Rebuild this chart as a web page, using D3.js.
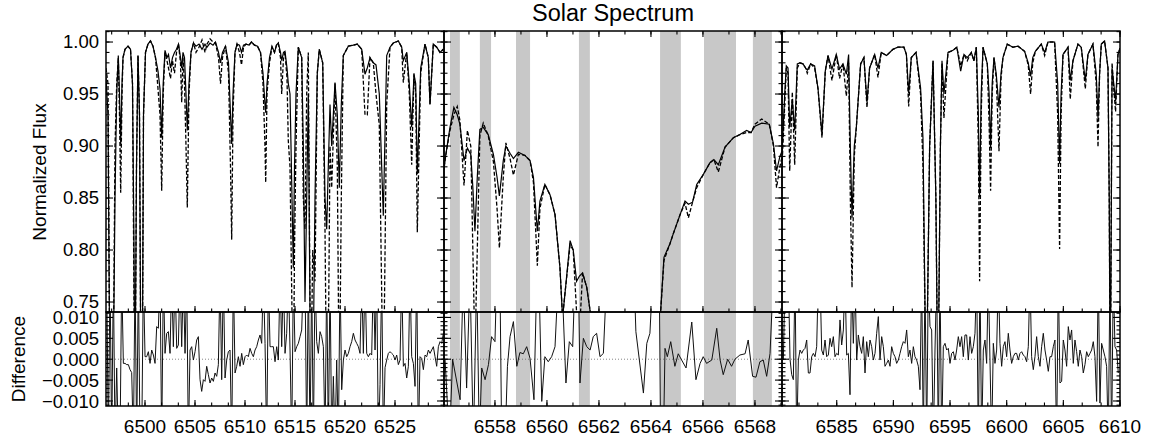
<!DOCTYPE html>
<html><head><meta charset="utf-8">
<script src="https://cdnjs.cloudflare.com/ajax/libs/d3/7.8.5/d3.min.js"></script>
<style>
  body { margin: 0; background: #fff; }
  svg text { font-family: "Liberation Sans", Arial, Helvetica, sans-serif; fill: #000; }
</style>
</head>
<body>
<svg id="chart" width="1154" height="439"></svg>
<script>
// ---- data ----
const leftWave = [6496.10,6496.30,6496.50,6496.80,6497.00,6497.17,6497.33,6497.45,6497.57,6497.70,
  6497.80,6498.00,6498.30,6498.55,6498.75,6498.90,6499.00,6499.15,6499.30,6499.45,
  6499.60,6499.72,6499.85,6500.05,6500.30,6500.55,6500.80,6501.05,6501.30,6501.50,
  6501.67,6501.82,6502.00,6502.20,6502.35,6502.55,6502.75,6502.95,6503.15,6503.35,
  6503.55,6503.67,6503.80,6503.95,6504.10,6504.23,6504.40,6504.60,6504.85,6505.10,
  6505.40,6505.70,6506.00,6506.20,6506.50,6506.80,6507.05,6507.35,6507.55,6507.75,
  6508.05,6508.35,6508.55,6508.67,6508.80,6509.00,6509.20,6509.45,6509.65,6509.85,
  6510.10,6510.40,6510.65,6510.95,6511.25,6511.55,6511.80,6512.00,6512.07,6512.20,
  6512.45,6512.70,6512.95,6513.15,6513.33,6513.55,6513.67,6513.85,6514.00,6514.20,
  6514.33,6514.50,6514.70,6514.83,6514.95,6515.10,6515.33,6515.67,6515.83,6516.00,
  6516.17,6516.33,6516.57,6516.77,6517.00,6517.23,6517.43,6517.77,6518.00,6518.17,
  6518.33,6518.50,6518.67,6519.00,6519.23,6519.43,6519.63,6519.83,6520.33,6520.83,
  6521.23,6521.67,6522.00,6522.23,6522.50,6522.83,6523.10,6523.43,6523.83,6524.17,
  6524.50,6524.83,6525.33,6525.67,6525.83,6526.17,6526.43,6526.67,6526.90,6527.07,
  6527.23,6527.57,6528.00,6528.33,6528.50,6528.83,6529.17,6529.50,6529.83];
const leftObs = [0.966,0.930,0.650,0.650,0.850,0.950,0.987,0.950,0.902,0.960,
  0.985,0.993,0.996,0.993,0.960,0.800,0.650,0.880,0.987,0.930,
  0.650,0.650,0.930,0.990,0.998,1.001,0.996,0.985,0.972,0.955,
  0.908,0.960,0.992,0.985,0.988,0.975,0.985,0.990,0.993,0.998,
  0.985,0.975,0.990,0.985,0.950,0.915,0.960,0.990,0.999,0.996,
  0.998,0.993,0.998,0.995,0.999,0.997,1.000,0.990,0.980,0.990,
  0.996,0.980,0.930,0.902,0.950,0.990,0.998,0.997,0.990,0.997,
  0.998,0.997,1.000,0.997,0.996,0.990,0.970,0.940,0.932,0.960,
  0.985,0.996,0.990,0.997,0.999,0.990,0.982,0.990,0.991,0.975,
  0.960,0.950,0.850,0.783,0.880,0.950,0.995,0.985,0.900,0.750,
  0.850,0.950,0.650,0.650,0.850,0.970,0.993,0.980,0.850,0.820,
  0.880,0.940,0.900,0.961,0.930,0.860,0.940,0.987,0.996,0.997,
  0.998,0.993,0.969,0.975,0.985,0.980,0.978,0.950,0.833,0.987,
  0.995,0.999,1.001,0.995,0.982,0.990,0.960,0.918,0.969,0.960,
  0.873,0.975,0.998,0.985,0.940,0.998,0.995,0.990,0.993];
const leftModel = [0.975,0.960,0.650,0.650,0.900,0.960,0.985,0.930,0.855,0.950,
  0.985,0.993,0.996,0.993,0.960,0.750,0.650,0.880,0.987,0.930,
  0.650,0.650,0.930,0.990,0.998,1.001,0.996,0.985,0.955,0.930,
  0.857,0.950,0.990,0.982,0.975,0.965,0.982,0.970,0.990,0.998,
  0.980,0.942,0.985,0.960,0.900,0.841,0.950,0.990,0.999,0.990,
  0.995,1.002,0.990,0.998,1.003,1.000,0.999,0.985,0.960,0.985,
  0.996,0.970,0.880,0.810,0.930,0.990,0.998,0.990,0.978,0.995,
  0.998,0.997,1.000,0.997,0.996,0.990,0.960,0.900,0.865,0.950,
  0.980,0.995,0.990,0.997,0.999,0.985,0.950,0.985,0.990,0.965,
  0.905,0.880,0.740,0.650,0.800,0.900,0.995,0.985,0.850,0.820,
  0.950,0.990,0.650,0.800,0.770,0.970,0.993,0.980,0.820,0.650,
  0.700,0.900,0.860,0.960,0.880,0.650,0.850,0.987,0.996,0.997,
  0.998,0.993,0.930,0.930,0.985,0.980,0.950,0.920,0.650,0.940,
  0.995,0.999,1.001,0.995,0.961,0.990,0.950,0.882,0.970,0.950,
  0.817,0.970,0.998,0.985,0.940,0.998,0.995,0.990,0.993];

const midWave = [6556.04,6556.10,6556.27,6556.42,6556.55,6556.65,6556.81,6556.94,6557.07,6557.15,
  6557.23,6557.32,6557.42,6557.55,6557.74,6557.94,6558.08,6558.17,6558.32,6558.42,
  6558.58,6558.71,6558.90,6559.15,6559.35,6559.48,6559.63,6559.73,6559.92,6560.12,
  6560.31,6560.50,6560.60,6560.70,6560.89,6561.01,6561.14,6561.25,6561.37,6561.53,
  6561.68,6561.80,6563.00,6564.30,6564.37,6564.50,6564.73,6564.85,6565.12,6565.31,
  6565.44,6565.60,6565.76,6566.02,6566.27,6566.42,6566.59,6566.85,6567.17,6567.42,
  6567.68,6567.85,6568.00,6568.26,6568.55,6568.71,6568.83,6568.96,6569.04];
const midObs = [0.877,0.890,0.918,0.937,0.930,0.921,0.886,0.898,0.892,0.860,
  0.818,0.870,0.916,0.918,0.911,0.892,0.870,0.852,0.886,0.900,
  0.893,0.888,0.894,0.891,0.886,0.870,0.818,0.847,0.863,0.853,
  0.834,0.783,0.735,0.760,0.809,0.800,0.770,0.775,0.778,0.764,
  0.738,0.700,0.650,0.700,0.740,0.793,0.806,0.815,0.834,0.847,
  0.844,0.846,0.863,0.873,0.884,0.887,0.882,0.899,0.908,0.911,
  0.915,0.913,0.919,0.922,0.921,0.902,0.876,0.890,0.895];
const midModel = [0.880,0.890,0.915,0.930,0.938,0.925,0.862,0.915,0.900,0.800,
  0.700,0.800,0.910,0.922,0.910,0.885,0.840,0.802,0.870,0.903,
  0.888,0.872,0.892,0.891,0.886,0.865,0.785,0.840,0.863,0.853,
  0.834,0.783,0.735,0.760,0.805,0.800,0.740,0.720,0.778,0.764,
  0.738,0.700,0.650,0.700,0.740,0.790,0.806,0.815,0.834,0.845,
  0.831,0.846,0.860,0.873,0.884,0.887,0.875,0.899,0.908,0.911,
  0.913,0.913,0.921,0.926,0.921,0.900,0.860,0.880,0.890];

const rightWave = [6580.17,6580.41,6580.55,6580.70,6580.85,6581.08,6581.29,6581.52,6581.75,6582.02,
  6582.25,6582.40,6582.70,6583.05,6583.35,6583.70,6583.99,6584.23,6584.58,6584.96,
  6585.25,6585.55,6585.85,6586.05,6586.20,6586.35,6586.55,6586.73,6587.11,6587.40,
  6587.67,6587.90,6588.35,6588.64,6588.93,6589.40,6589.96,6590.40,6590.93,6591.15,
  6591.35,6591.58,6592.00,6592.40,6592.61,6592.90,6593.20,6593.50,6593.75,6593.93,
  6594.15,6594.29,6594.46,6594.82,6595.26,6595.60,6595.94,6596.23,6596.52,6596.88,
  6597.11,6597.32,6597.50,6597.61,6597.75,6597.91,6598.29,6598.45,6598.58,6598.72,
  6598.88,6599.08,6599.32,6599.50,6599.67,6600.05,6600.55,6601.00,6601.58,6601.90,
  6602.11,6602.30,6602.53,6603.05,6603.35,6603.64,6604.23,6604.50,6604.67,6604.80,
  6604.97,6605.41,6605.61,6605.85,6606.29,6606.58,6606.94,6607.17,6607.61,6607.90,
  6608.06,6608.20,6608.35,6608.64,6608.94,6609.05,6609.14,6609.30,6609.45,6609.61,
  6609.82,6610.00];
const rightObs = [0.892,0.950,0.977,0.975,0.918,0.945,0.915,0.979,0.980,0.979,
  0.975,0.973,0.979,0.977,0.955,0.911,0.972,0.987,0.974,0.988,
  0.974,0.979,0.969,0.988,0.900,0.831,0.900,0.918,0.979,0.985,
  0.942,0.975,0.988,0.975,0.990,0.987,0.993,0.995,0.995,0.988,
  0.951,0.985,0.990,0.956,0.908,0.650,0.900,0.982,0.850,0.650,
  0.900,0.982,0.950,0.990,0.992,0.995,0.972,0.988,0.985,0.990,
  0.982,0.995,0.930,0.851,0.950,0.995,0.979,0.950,0.898,0.960,
  0.985,0.969,0.937,0.970,0.985,0.998,0.995,0.996,0.991,0.980,
  0.967,0.985,0.991,0.998,0.990,1.000,1.000,0.960,0.883,0.950,
  0.988,0.995,0.963,0.982,0.998,0.995,0.963,0.988,0.998,0.970,
  0.927,0.970,0.998,1.001,0.975,0.850,0.650,0.975,0.960,0.943,
  0.988,0.994];
const rightModel = [0.880,0.940,0.975,0.970,0.876,0.952,0.882,0.975,0.980,0.979,
  0.975,0.970,0.979,0.975,0.955,0.908,0.972,0.987,0.963,0.988,
  0.965,0.979,0.948,0.980,0.850,0.764,0.890,0.918,0.979,0.985,
  0.937,0.975,0.988,0.966,0.990,0.987,0.993,0.995,0.995,0.988,
  0.938,0.985,0.990,0.950,0.882,0.650,0.900,0.982,0.850,0.650,
  0.900,0.980,0.927,0.990,0.992,0.995,0.977,0.988,0.982,0.990,
  0.982,0.995,0.900,0.770,0.930,0.995,0.979,0.920,0.857,0.950,
  0.985,0.965,0.895,0.965,0.985,0.998,0.995,0.996,0.991,0.978,
  0.950,0.980,0.991,0.998,0.987,1.000,1.000,0.930,0.801,0.930,
  0.988,0.995,0.945,0.982,0.998,0.995,0.955,0.988,0.998,0.960,
  0.899,0.970,0.998,1.001,0.975,0.850,0.650,0.980,0.955,0.933,
  0.988,0.994];

// difference (obs - model) in units of 1e-3, sampled on the spectrum grid
const leftDiffStart = 6496.17, leftDiffStep = 1 / 6;
const leftDiff = [20,-20,20,-20,20,-20,-2.1,-20,-20,20,-1.0,-1.0,-1.3,-1.3,-2.5,-3.2,-20,20,-20,20,
  -20,-20,20,0.6,0.6,1.8,-1.0,2.2,1.0,-1.0,7.8,7.4,20,-20,20,1.4,6.2,6.6,1.4,20,
  3.0,20,2.6,3.4,20,3.0,20,1.4,20,-20,2.2,3.0,-0.2,1.8,4.6,5.4,-4.9,-7.7,-4.9,-5.3,
  -1.7,-3.7,-5.7,-4.5,-5.3,-3.3,-4.1,-1.3,20,-4.9,20,-4.5,-0.2,1.8,2.2,-20,20,-3.3,-1.7,0.6,
  -1.7,1.4,-1.3,0.6,1.0,0.6,2.6,1.4,0.6,2.2,3.0,4.6,5.8,3.8,20,3.8,-20,20,3.0,3.0,
  3.0,-0.6,3.0,-0.2,20,3.0,20,1.4,6.2,20,2.2,-20,20,1.8,3.0,3.8,5.4,7.0,20,20,
  -20,20,-20,20,-20,20,4.2,1.4,6.6,5.4,3.0,-20,20,-20,20,-20,-4.1,-20,-0.2,-20,
  20,-7.3,-0.2,2.2,0.6,1.4,3.0,4.2,6.2,4.6,3.8,3.0,1.4,20,1.4,20,1.4,0.6,1.4,1.0,
  20,2.2,20,-20,-6.1,20,-20,-2.0,-0.2,1.4,1.8,1.4,1.0,-0.2,1.0,-1.3,-0.2,20,-1.7,-1.0,
  -4.5,-1.7,20,0.6,-1.0,-6.5,20,-20,0.6,0.2,-2.5,1.0,0.6,2.2,1.4,2.2,3.0,0.6,-1.7,3.0,
  4.2,3.8,6.2];
const midDiffWave = [6556.08,6556.25,6556.37,6556.66,6556.78,6556.91,6557.04,6557.17,6557.30,6557.40,
  6557.49,6557.62,6557.75,6557.87,6558.00,6558.07,6558.19,6558.26,6558.39,6558.48,
  6558.58,6558.71,6558.84,6558.96,6559.09,6559.22,6559.35,6559.50,6559.61,6559.69,
  6559.80,6559.92,6560.05,6560.18,6560.31,6560.44,6560.57,6560.73,6560.86,6560.99,
  6561.08,6561.21,6561.27,6561.40,6561.53,6561.66,6561.78,6561.91,6562.04,6562.17,
  6562.30,6562.80,6563.35,6563.42,6563.71,6563.84,6563.96,6564.07,6564.32,6564.37,
  6564.48,6564.54,6564.63,6564.76,6564.92,6565.05,6565.18,6565.35,6565.57,6565.73,
  6565.89,6566.01,6566.14,6566.34,6566.53,6566.66,6566.78,6566.95,6567.10,6567.23,
  6567.42,6567.62,6567.74,6567.91,6568.04,6568.19,6568.32,6568.45,6568.58,6568.71];
const midDiff = [0,-20,0,-9.7,20,-6.9,20,-20,20,-20,
  -2.1,-4.9,-1.3,5.4,4.2,20,20,-20,-20,-1.7,
  5.4,9.0,-1.7,1.6,1.3,3.0,0.2,-9.7,20,20,
  -10.1,0.6,-0.6,0.6,3.0,20,20,-5.7,4.2,3.0,
  20,20,-5.7,5.0,3.0,2.2,5.4,6.2,0.6,1.4,
  20,null,20,6.6,-8.1,3.8,6.2,20,20,-20,
  -20,2.6,0.6,4.2,-1.7,1.3,-0.2,-2.1,8.9,-4.9,
  -1.0,0.6,-1.0,-0.2,7.4,-0.2,-3.7,0,-1.7,0,
  1.0,1.3,4.6,-4.1,-4.3,-0.6,-0.2,-4.1,1.4,20];
const rightDiffStart = 6580.29, rightDiffStep = 5 / 34;
const rightDiff = [-0.2,20,20,20,0,-3.7,-4.9,20,-20,-0.2,
  2.2,1.4,2.2,2.6,4.6,-3.3,-3.3,0.6,1.4,0.6,
  3.0,20,20,2.2,1.0,4.6,0.6,1.0,5.0,3.0,
  5.4,0.6,1.4,1.0,9.4,3.4,7.0,20,1.0,1.4,
  -8.5,20,3.8,20,-0.2,5.8,3.0,1.4,5.4,-3.3,
  4.2,0.6,4.6,3.0,-0.2,1.4,6.2,10.2,-0.2,5.4,
  3.0,-1.7,-1.0,-0.2,-1.7,3.0,1.4,0.6,-1.0,-0.2,
  1.4,3.0,4.2,3.8,7.0,0.6,2.2,-1.0,3.0,0.6,
  -0.2,-1.7,-7.3,20,-20,20,-20,20,7.8,7.0,
  -20,2.2,20,-20,20,-20,3.0,3.8,2.2,2.6,
  -1.0,1.4,1.8,-0.2,2.2,5.4,3.0,5.4,0.6,5.8,
  5.8,-0.2,5.4,1.4,3.0,6.2,20,-20,20,-20,
  2.2,4.6,-1.0,20,-0.2,-20,3.8,-1.0,2.2,20,
  3.8,-1.7,3.0,4.2,0.6,6.2,2.2,-1.0,0.6,1.4,
  1.4,-0.2,1.4,1.8,1.0,0.6,-0.6,3.0,20,0.6,
  -2.5,0.6,5.4,0.6,-1.7,3.0,6.2,2.2,-0.2,-2.9,
  0.6,0.6,3.0,4.6,-20,20,-5.7,-5.3,4.6,2.2,
  -1.7,7.8,4.6,7.0,-1.0,4.6,1.8,-1.7,2.2,0.6,
  -3.3,-1.3,1.8,0.6,1.4,2.2,4.2,0.6,-10.1,20,
  -10.5,3.8,2.2,0.6,-1.7,-20,20,-20,20,3.0,
  2.2,-3.3];

// masked regions around H-alpha
const bandStart = [6556.27, 6557.42, 6558.81, 6561.23, 6564.35, 6566.04, 6567.92];
const bandEnd   = [6556.65, 6557.85, 6559.35, 6561.65, 6565.15, 6567.27, 6568.65];

const fluxTicks = [0.75, 0.80, 0.85, 0.90, 0.95, 1.00];
const diffTicks = [-0.010, -0.005, 0, 0.005, 0.010];

// ---- layout ----
const svg = d3.select("#chart");
const panelX = [106, 444, 782], panelW = 338;
const topY0 = 31, topY1 = 312, botY1 = 406;

const yFlux = d3.scaleLinear().domain([0.7404, 1.0106]).range([topY1, topY0]);
const yDiff = d3.scaleLinear().domain([-0.0112, 0.0113]).range([botY1, topY1]);

const panels = [
  { domain: [6496.1, 6529.9], major: d3.range(6500, 6530, 5), minorStep: 5 / 3,
    wave: leftWave, obs: leftObs, model: leftModel,
    dWave: leftDiff.map((d, i) => leftDiffStart + i * leftDiffStep), diff: leftDiff },
  { domain: [6556.04, 6569.04], major: d3.range(6558, 6570, 2), minorStep: 1,
    wave: midWave, obs: midObs, model: midModel,
    dWave: midDiffWave, diff: midDiff, bands: true },
  { domain: [6580.17, 6610.0], major: d3.range(6585, 6611, 5), minorStep: 5 / 3,
    wave: rightWave, obs: rightObs, model: rightModel,
    dWave: rightDiff.map((d, i) => rightDiffStart + i * rightDiffStep), diff: rightDiff }
];

const defs = svg.append("defs");
const majLen = 7, minLen = 3.5;

panels.forEach((p, pi) => {
  const x0 = panelX[pi];
  const x = d3.scaleLinear().domain(p.domain).range([x0, x0 + panelW]);
  const g = svg.append("g");

  defs.append("clipPath").attr("id", "ct" + pi).append("rect")
    .attr("x", x0).attr("y", topY0).attr("width", panelW).attr("height", topY1 - topY0);
  defs.append("clipPath").attr("id", "cb" + pi).append("rect")
    .attr("x", x0).attr("y", topY1).attr("width", panelW).attr("height", botY1 - topY1);

  if (p.bands) {
    g.selectAll("rect.band").data(bandStart).enter().append("rect")
      .attr("class", "band")
      .attr("x", (d, i) => x(d)).attr("width", (d, i) => x(bandEnd[i]) - x(d))
      .attr("y", topY0).attr("height", botY1 - topY0)
      .attr("fill", "#c8c8c8");
  }

  // zero line of the difference panel
  g.append("line").attr("x1", x0).attr("x2", x0 + panelW)
    .attr("y1", yDiff(0)).attr("y2", yDiff(0))
    .attr("stroke", "#666").attr("stroke-width", 0.8).attr("stroke-dasharray", "1,2");

  const spec = p.wave.map((w, i) => ({ w, o: p.obs[i], m: p.model[i] }));
  const topG = g.append("g").attr("clip-path", `url(#ct${pi})`);
  topG.append("path").datum(spec)
    .attr("d", d3.line().x(d => x(d.w)).y(d => yFlux(d.m)))
    .attr("fill", "none").attr("stroke", "#000").attr("stroke-width", 1.3)
    .attr("stroke-dasharray", "4,2");
  topG.append("path").datum(spec)
    .attr("d", d3.line().x(d => x(d.w)).y(d => yFlux(d.o)))
    .attr("fill", "none").attr("stroke", "#000").attr("stroke-width", 1.2);

  const diffData = p.dWave.map((w, i) => ({ w, v: p.diff[i] }));
  g.append("g").attr("clip-path", `url(#cb${pi})`).append("path").datum(diffData)
    .attr("d", d3.line().defined(d => d.v != null).x(d => x(d.w)).y(d => yDiff(d.v * 1e-3)))
    .attr("fill", "none").attr("stroke", "#111").attr("stroke-width", 1);

  // frames
  [[topY0, topY1], [topY1, botY1]].forEach(([a, b]) => {
    g.append("rect").attr("x", x0).attr("y", a).attr("width", panelW).attr("height", b - a)
      .attr("fill", "none").attr("stroke", "#000").attr("stroke-width", 1.5);
  });

  // x ticks (inward)
  const minors = d3.range(p.major[0] - 6 * p.minorStep, p.domain[1] + 0.01, p.minorStep)
    .filter(v => v >= p.domain[0] - 1e-6 && v <= p.domain[1] + 1e-6);
  const xt = g.append("g").attr("stroke", "#000").attr("stroke-width", 1.1);
  const tickX = (vals, len) => {
    vals.forEach(v => {
      const px = x(v);
      xt.append("line").attr("x1", px).attr("x2", px).attr("y1", topY0).attr("y2", topY0 + len);
      xt.append("line").attr("x1", px).attr("x2", px).attr("y1", topY1).attr("y2", topY1 - len);
      xt.append("line").attr("x1", px).attr("x2", px).attr("y1", botY1).attr("y2", botY1 - len);
    });
  };
  tickX(minors, 3.5);
  tickX(p.major, 6);

  // y ticks on both sides (inward)
  const yt = g.append("g").attr("stroke", "#000").attr("stroke-width", 1.1);
  const tickY = (vals, scale, len) => {
    vals.forEach(v => {
      const py = scale(v);
      yt.append("line").attr("x1", x0).attr("x2", x0 + len).attr("y1", py).attr("y2", py);
      yt.append("line").attr("x1", x0 + panelW).attr("x2", x0 + panelW - len).attr("y1", py).attr("y2", py);
    });
  };
  tickY(d3.range(74, 102).map(v => v / 100), yFlux, minLen);
  tickY(fluxTicks, yFlux, majLen);
  tickY(d3.range(-11, 12).map(v => v / 1000), yDiff, minLen);
  tickY(diffTicks, yDiff, majLen);

  // x labels
  g.selectAll("text.xl").data(p.major).enter().append("text")
    .attr("class", "xl").attr("x", d => x(d)).attr("y", 433)
    .attr("text-anchor", "middle").attr("font-size", 19).text(d => d);
});

// y labels on the first panel
const fmtF = d3.format(".2f"), fmtD = d3.format(".3f");
svg.selectAll("text.yf").data(fluxTicks).enter().append("text")
  .attr("x", 99).attr("y", d => yFlux(d)).attr("dy", "0.33em")
  .attr("text-anchor", "end").attr("font-size", 18.5).text(d => fmtF(d));
svg.selectAll("text.yd").data(diffTicks).enter().append("text")
  .attr("x", 99).attr("y", d => yDiff(d)).attr("dy", "0.36em")
  .attr("text-anchor", "end").attr("font-size", 18.5).text(d => fmtD(d));

svg.append("text").attr("x", 613).attr("y", 21).attr("text-anchor", "middle")
  .attr("font-size", 23.5).text("Solar Spectrum");
svg.append("text").attr("transform", "translate(46,172) rotate(-90)")
  .attr("text-anchor", "middle").attr("font-size", 19).text("Normalized Flux");
svg.append("text").attr("transform", "translate(25,359) rotate(-90)")
  .attr("text-anchor", "middle").attr("font-size", 19).text("Difference");
</script>
</body></html>
